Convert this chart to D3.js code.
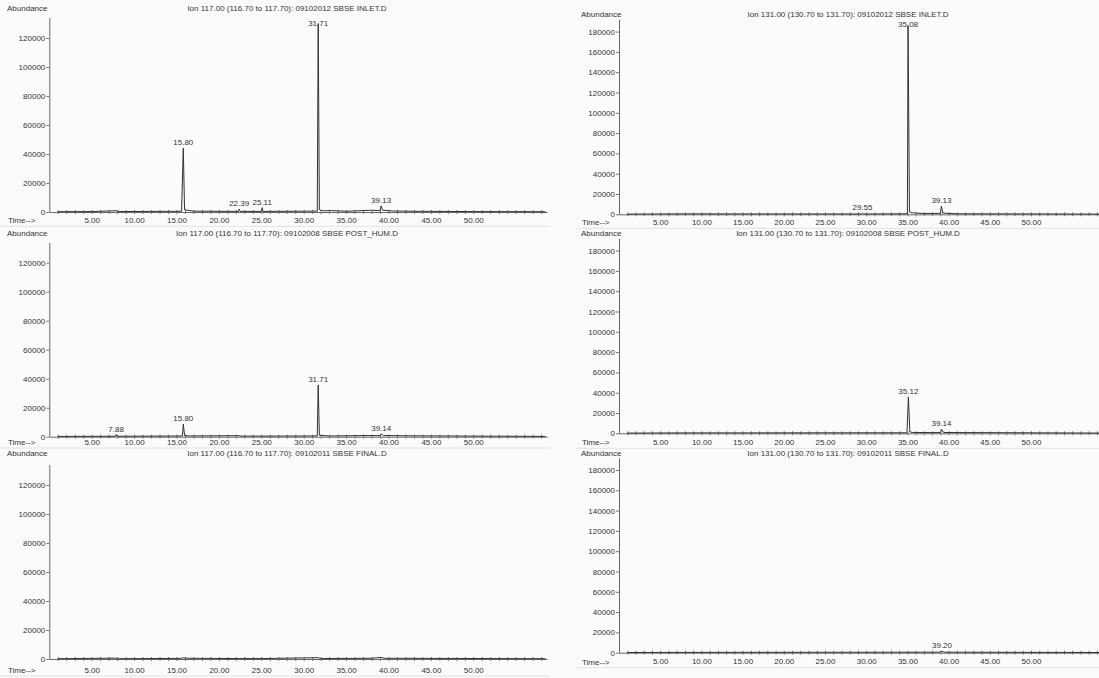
<!DOCTYPE html>
<html>
<head>
<meta charset="utf-8">
<script src="https://cdn.jsdelivr.net/npm/d3@7"></script>
<style>
  body { margin: 0; background: #fbfbfb; }
  text { font-family: "Liberation Sans", Arial, sans-serif; font-size: 8px; fill: #333; }
</style>
</head>
<body>
<script>
// chromatogram data
var titles = [
  "Ion 117.00 (116.70 to 117.70): 09102012 SBSE INLET.D",
  "Ion 117.00 (116.70 to 117.70): 09102008 SBSE POST_HUM.D",
  "Ion 117.00 (116.70 to 117.70): 09102011 SBSE FINAL.D",
  "Ion 131.00 (130.70 to 131.70): 09102012 SBSE INLET.D",
  "Ion 131.00 (130.70 to 131.70): 09102008 SBSE POST_HUM.D",
  "Ion 131.00 (130.70 to 131.70): 09102011 SBSE FINAL.D"
];

var yTicks117 = [0, 20000, 40000, 60000, 80000, 100000, 120000];
var yTicks131 = [0, 20000, 40000, 60000, 80000, 100000, 120000, 140000, 160000, 180000];
var timeTicks = [5, 10, 15, 20, 25, 30, 35, 40, 45, 50];
var timeMax = 58.7;

// [time (min), abundance]
var trace117Inlet = [[1.0,200],[5.0,300],[7.9,900],[8.1,300],[15.6,500],[15.80,44000],[15.95,1500],[16.3,1200],[17.0,600],
  [22.3,400],[22.39,2000],[22.5,400],[25.0,400],[25.11,3000],[25.2,400],[31.6,600],[31.71,130000],[31.85,1500],
  [32.3,800],[33.3,1000],[35.0,500],[37.9,1200],[39.0,900],[39.13,4200],[39.3,1200],[40.5,700],[43.0,500],[50.0,300],[58.5,200]];
var peaks117Inlet = [15.80, 22.39, 25.11, 31.71, 39.13];

var trace117Post = [[1.0,200],[7.8,300],[7.88,1500],[8.0,300],[15.7,500],[15.80,8700],[15.95,800],[16.5,500],
  [22.4,700],[22.6,400],[31.6,500],[31.71,35700],[31.85,1000],[33.0,500],[37.8,800],[39.0,700],[39.14,2000],
  [39.4,800],[43.0,600],[58.5,200]];
var peaks117Post = [7.88, 15.80, 31.71, 39.14];

var trace117Final = [[1.0,200],[7.9,600],[8.1,200],[15.5,400],[15.8,800],[16.3,500],[22.4,300],[25.1,300],
  [31.71,900],[32.0,300],[37.9,500],[39.13,1100],[39.5,500],[58.5,200]];
var peaks117Final = [];

var trace131Inlet = [[1.0,200],[8.0,400],[29.4,300],[29.55,1200],[29.7,300],[35.0,500],[35.08,186000],[35.25,2500],
  [35.6,1500],[37.0,800],[39.0,900],[39.13,8000],[39.3,1200],[41.0,500],[58.5,200]];
var peaks131Inlet = [29.55, 35.08, 39.13];

var trace131Post = [[1.0,200],[8.0,400],[34.95,500],[35.12,35900],[35.3,1500],[35.6,800],[39.0,700],[39.14,4000],
  [39.4,800],[58.5,200]];
var peaks131Post = [35.12, 39.14];

var trace131Final = [[1.0,200],[8.0,300],[39.0,500],[39.20,1500],[39.5,500],[58.5,200]];
var peaks131Final = [39.20];

// page layout
var width = 1099;
var height = 678;

var cols = [
  { x0: 49.3, pxPerMin: 8.48, yMax: 134000, h: 194.3, yTicks: yTicks117, textX: 7, titleX: 287, lineX: [0, 550] },
  { x0: 619, pxPerMin: 8.24, yMax: 192000, h: 194.9, yTicks: yTicks131, textX: 581, titleX: 848, lineX: [575, 1099] }
];

var panels = [
  { col: 0, base: 212,   head: 8,     tickY: 220.3, title: titles[0], trace: trace117Inlet, peaks: peaks117Inlet },
  { col: 0, base: 436.7, head: 232.7, tickY: 442,   title: titles[1], trace: trace117Post,  peaks: peaks117Post },
  { col: 0, base: 659,   head: 452.7, tickY: 670,   title: titles[2], trace: trace117Final, peaks: peaks117Final },
  { col: 1, base: 214.3, head: 14,    tickY: 222.3, title: titles[3], trace: trace131Inlet, peaks: peaks131Inlet },
  { col: 1, base: 433.3, head: 232.7, tickY: 442.3, title: titles[4], trace: trace131Post,  peaks: peaks131Post },
  { col: 1, base: 652.7, head: 452.7, tickY: 661.7, title: titles[5], trace: trace131Final, peaks: peaks131Final }
];

var svg = d3.select( "body" )
  .append( "svg" )
  .attr( "width", width )
  .attr( "height", height );

panels.forEach( function( p ) {
  var c = cols[p.col];
  var x = d3.scaleLinear()
    .domain( [0, timeMax] )
    .range( [c.x0, c.x0 + timeMax * c.pxPerMin] );
  var y = d3.scaleLinear()
    .domain( [0, c.yMax] )
    .range( [p.base, p.base - c.h] );

  var g = svg.append( "g" );

  // faint scan separator under the time labels
  g.append( "line" )
    .attr( "x1", c.lineX[0] ).attr( "x2", c.lineX[1] )
    .attr( "y1", p.tickY + 6 ).attr( "y2", p.tickY + 6 )
    .attr( "stroke", "#e3e3e3" );

  // y axis
  var yg = g.append( "g" )
    .attr( "transform", "translate(" + c.x0 + ",0)" )
    .call( d3.axisLeft( y ).tickValues( c.yTicks ).tickFormat( d3.format( "d" ) )
      .tickSize( 3 ).tickSizeOuter( 0 ).tickPadding( 1 ) );

  // x axis, a tick every minute, labels every 5
  var xg = g.append( "g" )
    .attr( "transform", "translate(0," + p.base + ")" )
    .call( d3.axisBottom( x ).tickValues( d3.range( 1, 59 ) )
      .tickFormat( function( d ) { return timeTicks.indexOf( d ) >= 0 ? d.toFixed( 2 ) : ""; } )
      .tickSize( 2 ).tickSizeOuter( 0 ) );
  xg.selectAll( ".tick line" ).attr( "y1", -2 ).attr( "y2", 2 );
  xg.selectAll( ".tick text" ).attr( "y", p.tickY - p.base ).attr( "dy", "0.35em" );

  [yg, xg].forEach( function( a ) {
    a.attr( "font-size", null ).attr( "font-family", null );
    a.select( ".domain" ).attr( "stroke", "#666" );
    a.selectAll( ".tick line" ).attr( "stroke", "#777" );
    a.selectAll( ".tick text" ).attr( "fill", "#333" );
  } );

  // trace
  g.append( "path" )
    .datum( p.trace )
    .attr( "fill", "none" )
    .attr( "stroke", "#333" )
    .attr( "stroke-width", 1 )
    .attr( "d", d3.line().x( function( d ) { return x( d[0] ); } ).y( function( d ) { return y( d[1] ); } ) );

  // peak labels
  g.selectAll( ".pk" )
    .data( p.peaks )
    .enter()
    .append( "text" )
    .attr( "class", "pk" )
    .attr( "text-anchor", "middle" )
    .attr( "x", function( d ) { return x( d ); } )
    .attr( "y", function( d ) {
      var apex = p.trace.find( function( pt ) { return pt[0] === d; } )[1];
      return Math.max( y( apex ) - 3, p.base - c.h + 8 );
    } )
    .text( function( d ) { return d.toFixed( 2 ); } );

  g.append( "text" ).attr( "x", c.textX ).attr( "y", p.head ).attr( "dy", "0.35em" ).text( "Abundance" );
  g.append( "text" ).attr( "x", c.textX + 1 ).attr( "y", p.tickY ).attr( "dy", "0.35em" ).text( "Time-->" );
  g.append( "text" ).attr( "x", c.titleX ).attr( "y", p.head ).attr( "dy", "0.35em" )
    .attr( "text-anchor", "middle" ).text( p.title );
} );
</script>
</body>
</html>
